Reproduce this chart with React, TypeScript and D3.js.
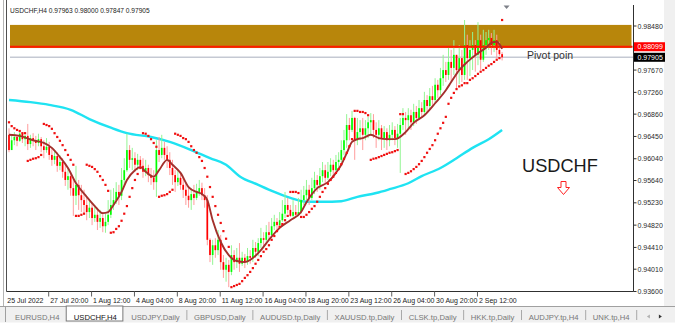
import React from "react";
import * as d3 from "d3";

const symbolTitle = "USDCHF,H4";
const headerOHLC = ["0.97963", "0.98000", "0.97847", "0.97905"];
const firstOpen = 0.9648;

const closes = [
  0.9620, 0.9638, 0.9644, 0.9637, 0.9650, 0.9640, 0.9646, 0.9631, 0.9642, 0.9638,
  0.9633, 0.9640, 0.9627, 0.9620, 0.9626, 0.9611, 0.9602, 0.9609, 0.9591, 0.9598,
  0.9580, 0.9565, 0.9572, 0.9550, 0.9536, 0.9556, 0.9537, 0.9528, 0.9519, 0.9506,
  0.9514, 0.9495, 0.9501, 0.9488, 0.9495, 0.9480, 0.9488, 0.9501, 0.9519, 0.9528,
  0.9543, 0.9536, 0.9565, 0.9583, 0.9620, 0.9602, 0.9605, 0.9593, 0.9602, 0.9591,
  0.9580, 0.9587, 0.9574, 0.9569, 0.9561, 0.9620, 0.9611, 0.9624, 0.9611, 0.9602,
  0.9587, 0.9574, 0.9561, 0.9569, 0.9556, 0.9547, 0.9536, 0.9528, 0.9539, 0.9532,
  0.9543, 0.9550, 0.9537, 0.9528, 0.9455, 0.9427, 0.9445, 0.9436, 0.9455, 0.9414,
  0.9400, 0.9409, 0.9396, 0.9427, 0.9414, 0.9422, 0.9411, 0.9422, 0.9414, 0.9425,
  0.9422, 0.9440, 0.9433, 0.9449, 0.9458, 0.9455, 0.9469, 0.9464, 0.9480, 0.9488,
  0.9482, 0.9491, 0.9503, 0.9519, 0.9510, 0.9499, 0.9506, 0.9501, 0.9506, 0.9528,
  0.9537, 0.9547, 0.9532, 0.9550, 0.9565, 0.9556, 0.9572, 0.9583, 0.9569, 0.9580,
  0.9593, 0.9583, 0.9598, 0.9602, 0.9620, 0.9638, 0.9666, 0.9657, 0.9679, 0.9638,
  0.9653, 0.9660, 0.9648, 0.9660, 0.9671, 0.9675, 0.9657, 0.9648, 0.9660, 0.9642,
  0.9653, 0.9638, 0.9648, 0.9657, 0.9642, 0.9650, 0.9666, 0.9679, 0.9675, 0.9684,
  0.9671, 0.9690, 0.9679, 0.9697, 0.9690, 0.9712, 0.9701, 0.9719, 0.9712, 0.9740,
  0.9730, 0.9752, 0.9767, 0.9758, 0.9782, 0.9771, 0.9795, 0.9767, 0.9789, 0.9758,
  0.9813, 0.9789, 0.9804, 0.9813, 0.9795, 0.9822, 0.9786, 0.9813, 0.9822, 0.9826,
  0.9813, 0.9822, 0.9804, 0.97963, 0.97905,
];

const highs = [
  0.9660, 0.9646, 0.9653, 0.9648, 0.9653, 0.9650, 0.9648, 0.9668, 0.9648, 0.9651,
  0.9646, 0.9650, 0.9644, 0.9638, 0.9642, 0.9635, 0.9624, 0.9620, 0.9616, 0.9611,
  0.9605, 0.9593, 0.9587, 0.9580, 0.9569, 0.9591, 0.9565, 0.9556, 0.9547, 0.9532,
  0.9528, 0.9523, 0.9519, 0.9514, 0.9510, 0.9506, 0.9503, 0.9528, 0.9547, 0.9550,
  0.9561, 0.9556, 0.9587, 0.9605, 0.9650, 0.9629, 0.9624, 0.9616, 0.9613, 0.9609,
  0.9605, 0.9602, 0.9593, 0.9587, 0.9583, 0.9638, 0.9644, 0.9648, 0.9635, 0.9627,
  0.9616, 0.9602, 0.9583, 0.9583, 0.9580, 0.9569, 0.9560, 0.9554, 0.9550, 0.9556,
  0.9558, 0.9565, 0.9560, 0.9550, 0.9537, 0.9458, 0.9455, 0.9458, 0.9473, 0.9464,
  0.9427, 0.9422, 0.9418, 0.9445, 0.9436, 0.9440, 0.9449, 0.9433, 0.9429, 0.9440,
  0.9436, 0.9455, 0.9451, 0.9458, 0.9477, 0.9469, 0.9482, 0.9488, 0.9495, 0.9501,
  0.9495, 0.9506, 0.9528, 0.9543, 0.9532, 0.9519, 0.9528, 0.9519, 0.9532, 0.9547,
  0.9554, 0.9565, 0.9556, 0.9569, 0.9580, 0.9574, 0.9587, 0.9598, 0.9593, 0.9598,
  0.9605, 0.9602, 0.9611, 0.9616, 0.9638, 0.9657, 0.9686, 0.9679, 0.9692, 0.9681,
  0.9679, 0.9675, 0.9679, 0.9675, 0.9681, 0.9688, 0.9686, 0.9671, 0.9675, 0.9666,
  0.9664, 0.9660, 0.9666, 0.9671, 0.9664, 0.9668, 0.9679, 0.9697, 0.9690, 0.9697,
  0.9694, 0.9705, 0.9701, 0.9712, 0.9708, 0.9727, 0.9721, 0.9734, 0.9738, 0.9752,
  0.9749, 0.9771, 0.9795, 0.9782, 0.9808, 0.9804, 0.9822, 0.9795, 0.9813, 0.9804,
  0.9859, 0.9832, 0.9822, 0.9837, 0.9822, 0.9855, 0.9832, 0.9841, 0.9837, 0.9841,
  0.9835, 0.9841, 0.9832, 0.9819, 0.98000,
];

const lows = [
  0.9616, 0.9620, 0.9629, 0.9627, 0.9635, 0.9633, 0.9627, 0.9620, 0.9624, 0.9627,
  0.9620, 0.9627, 0.9616, 0.9605, 0.9615, 0.9602, 0.9591, 0.9594, 0.9580, 0.9583,
  0.9569, 0.9554, 0.9547, 0.9536, 0.9499, 0.9519, 0.9510, 0.9506, 0.9504, 0.9491,
  0.9495, 0.9482, 0.9488, 0.9473, 0.9477, 0.9469, 0.9468, 0.9482, 0.9495, 0.9510,
  0.9521, 0.9519, 0.9528, 0.9556, 0.9580, 0.9587, 0.9583, 0.9580, 0.9583, 0.9589,
  0.9569, 0.9572, 0.9561, 0.9556, 0.9547, 0.9534, 0.9598, 0.9605, 0.9602, 0.9587,
  0.9574, 0.9556, 0.9543, 0.9554, 0.9547, 0.9532, 0.9519, 0.9514, 0.9510, 0.9519,
  0.9528, 0.9536, 0.9528, 0.9514, 0.9445, 0.9414, 0.9409, 0.9422, 0.9427, 0.9400,
  0.9385, 0.9378, 0.9368, 0.9390, 0.9400, 0.9403, 0.9396, 0.9407, 0.9403, 0.9409,
  0.9411, 0.9414, 0.9422, 0.9425, 0.9440, 0.9444, 0.9447, 0.9455, 0.9462, 0.9473,
  0.9473, 0.9480, 0.9488, 0.9495, 0.9503, 0.9497, 0.9497, 0.9497, 0.9501, 0.9503,
  0.9519, 0.9528, 0.9519, 0.9528, 0.9539, 0.9543, 0.9547, 0.9561, 0.9558, 0.9565,
  0.9572, 0.9574, 0.9581, 0.9587, 0.9598, 0.9611, 0.9624, 0.9638, 0.9653, 0.9602,
  0.9629, 0.9638, 0.9620, 0.9638, 0.9642, 0.9648, 0.9642, 0.9624, 0.9638, 0.9620,
  0.9624, 0.9620, 0.9627, 0.9638, 0.9629, 0.9624, 0.9578, 0.9657, 0.9648, 0.9660,
  0.9657, 0.9664, 0.9668, 0.9675, 0.9679, 0.9684, 0.9690, 0.9694, 0.9703, 0.9705,
  0.9716, 0.9721, 0.9738, 0.9745, 0.9749, 0.9745, 0.9758, 0.9734, 0.9741, 0.9745,
  0.9749, 0.9749, 0.9756, 0.9767, 0.9764, 0.9776, 0.9767, 0.9782, 0.9795, 0.9804,
  0.9795, 0.9800, 0.9789, 0.9793, 0.97847,
];

const sar = [
  0.9671, 0.9664, 0.9660, 0.9657, 0.9655, 0.9651, 0.9651,
  0.9600, 0.9602, 0.9604, 0.9605, 0.9607, 0.9611,
  0.9668, 0.9666, 0.9664, 0.9659, 0.9651, 0.9644, 0.9637, 0.9629, 0.9620, 0.9611, 0.9602, 0.9593,
  0.9499, 0.9499, 0.9501, 0.9503,
  0.9593, 0.9591, 0.9589, 0.9585, 0.9580, 0.9572, 0.9565, 0.9556, 0.9545,
  0.9468, 0.9469, 0.9475, 0.9480, 0.9490, 0.9503, 0.9517, 0.9534, 0.9550, 0.9565, 0.9576, 0.9587,
  0.9651, 0.9650, 0.9646, 0.9640, 0.9633, 0.9626,
  0.9534, 0.9536, 0.9537, 0.9539, 0.9543, 0.9547,
  0.9650, 0.9648, 0.9646, 0.9642, 0.9640, 0.9635, 0.9627, 0.9620, 0.9615, 0.9607, 0.9600,
  0.9587, 0.9571, 0.9552, 0.9534, 0.9517, 0.9501, 0.9486, 0.9471, 0.9457, 0.9442,
  0.9368, 0.9370, 0.9372, 0.9374, 0.9379, 0.9385, 0.9390, 0.9396, 0.9403, 0.9411, 0.9418,
  0.9425, 0.9433, 0.9438, 0.9445, 0.9455, 0.9462, 0.9471, 0.9479, 0.9484, 0.9491, 0.9499,
  0.9543, 0.9543, 0.9543, 0.9541,
  0.9497, 0.9497, 0.9501, 0.9506, 0.9512, 0.9517, 0.9525, 0.9534, 0.9543, 0.9550,
  0.9558, 0.9565, 0.9571, 0.9578, 0.9585, 0.9594, 0.9604, 0.9615, 0.9627, 0.9640,
  0.9692, 0.9692, 0.9690, 0.9690, 0.9688, 0.9684,
  0.9602, 0.9604, 0.9605, 0.9607, 0.9609, 0.9611, 0.9613, 0.9615, 0.9616, 0.9618, 0.9620,
  0.9686, 0.9686,
  0.9576, 0.9578, 0.9581, 0.9585, 0.9589, 0.9594, 0.9600, 0.9607, 0.9615, 0.9622,
  0.9629, 0.9638, 0.9650, 0.9660, 0.9670, 0.9681, 0.9705, 0.9716, 0.9725, 0.9732,
  0.9737, 0.9739, 0.9743, 0.9743, 0.9749, 0.9752, 0.9756, 0.9760, 0.9764, 0.9767,
  0.9771, 0.9775, 0.9778, 0.9782, 0.9786, 0.9789,
  0.9859,
];

// moving averages: [bar index, value]
const maBrown: [number, number][] = [
  [0, 0.9648], [4, 0.9646], [9, 0.9638], [13, 0.9633], [16, 0.9624], [19, 0.9607],
  [22, 0.9587], [25, 0.9559], [29, 0.9534], [32, 0.9517], [35, 0.9504], [37, 0.9506],
  [39, 0.9519], [42, 0.9543], [44, 0.9565], [47, 0.9583], [49, 0.9589], [51, 0.9580],
  [54, 0.9571], [56, 0.9583], [59, 0.9602], [61, 0.9593], [64, 0.9578], [67, 0.9552],
  [70, 0.9543], [72, 0.9539], [74, 0.9528], [76, 0.9491], [79, 0.9451], [82, 0.9427],
  [85, 0.9416], [88, 0.9414], [90, 0.9418], [94, 0.9436], [97, 0.9455], [101, 0.9477],
  [105, 0.9491], [109, 0.9506], [111, 0.9524], [115, 0.9550], [119, 0.9561], [122, 0.9578],
  [124, 0.9593], [126, 0.9614], [128, 0.9635], [130, 0.9640], [132, 0.9642], [135, 0.9648],
  [138, 0.9642], [141, 0.9640], [144, 0.9640], [148, 0.9653], [151, 0.9670], [155, 0.9684],
  [159, 0.9706], [163, 0.9730], [165, 0.9745], [168, 0.9767], [171, 0.9782], [175, 0.9798],
  [178, 0.9808], [180, 0.9817], [182, 0.9819], [184, 0.9806],
];

const maCyan: [number, number][] = [
  [0, 0.9712], [8, 0.9708], [15, 0.9703], [23, 0.9694], [30, 0.9677], [38, 0.9661],
  [44, 0.9651], [53, 0.9644], [60, 0.9635], [68, 0.9620], [75, 0.9605], [81, 0.9593],
  [86, 0.9572], [93, 0.9556], [99, 0.9543], [105, 0.9532], [111, 0.9525], [117, 0.9525],
  [124, 0.9526], [130, 0.9534], [137, 0.9541], [142, 0.9548], [149, 0.9559], [154, 0.9572],
  [161, 0.9587], [167, 0.9605], [173, 0.9624], [179, 0.9640], [184, 0.9657],
];

const priceTicks = [0.9848, 0.9767, 0.9726, 0.9686, 0.9645, 0.9604, 0.9564, 0.9523, 0.9482, 0.9441, 0.9401, 0.936];
const timeLabels = ["25 Jul 2022", "27 Jul 20:00", "1 Aug 12:00", "4 Aug 04:00", "8 Aug 20:00", "11 Aug 12:00", "16 Aug 04:00", "18 Aug 20:00", "23 Aug 12:00", "26 Aug 04:00", "30 Aug 20:00", "2 Sep 12:00"];
const timeLabelBars = [0, 15, 31, 47, 63, 79, 95, 111, 127, 143, 159, 175];

const zoneTop = 0.985;
const zoneBottom = 0.98075;
const redLevel = 0.98099;
const bidLevel = 0.97905;

const tabs = ["EURUSD,H4", "USDCHF,H4", "USDJPY,Daily", "GBPUSD,Daily", "AUDUSD.tp,Daily", "XAUUSD.tp,Daily", "CLSK.tp,Daily", "HKK.tp,Daily", "AUDJPY.tp,H4", "UNK.tp,H4"];
const activeTab = 1;

const W = 675;
const H = 334;
const plotLeft = 6.5;
const axisX = 633.5;
const axisY = 291.5;
const FONT = "'Liberation Sans', Arial, sans-serif";

function measure(text: string, size: number) {
  if (typeof document === "undefined") return text.length * size * 0.55;
  const c = document.createElement("canvas").getContext("2d");
  if (!c) return text.length * size * 0.55;
  c.font = `${size}px 'Liberation Sans'`;
  return c.measureText(text).width;
}

export default function App() {
  const n = closes.length;
  const xs = d3.scaleLinear().domain([0, n - 1]).range([9, 502.1]);
  const ys = d3.scaleLinear().domain([0.936, 0.9848]).range([axisY, 26]);
  const fmt = d3.format(".5f");

  const brownLine = d3.line<[number, number]>().x((d) => xs(d[0])).y((d) => ys(d[1])).curve(d3.curveMonotoneX)(maBrown) || "";
  const cyanLine = d3.line<[number, number]>().x((d) => xs(d[0])).y((d) => ys(d[1])).curve(d3.curveMonotoneX)(maCyan) || "";

  const candles = closes.map((c, i) => {
    const o = i === 0 ? firstOpen : closes[i - 1];
    const bull = c >= o;
    const x = xs(i);
    const yTop = ys(Math.max(o, c));
    const yBot = ys(Math.min(o, c));
    return (
      <g key={i}>
        <line x1={x} x2={x} y1={ys(highs[i])} y2={ys(lows[i])} stroke={bull ? "#93f593" : "#ff9c9c"} strokeWidth={1} />
        <rect x={x - 0.85} width={1.7} y={yTop} height={Math.max(1, yBot - yTop)} fill={bull ? "#00ff00" : "#ff0000"} />
      </g>
    );
  });

  // tabs layout
  const tabSize = 7.7;
  const tabGap = 14.3;
  let cursor = 15;
  const tabPos = tabs.map((t) => {
    const w = measure(t, tabSize);
    const p = { x: cursor, w };
    cursor += w + tabGap;
    return p;
  });

  const yRed = ys(redLevel);
  const yBid = ys(bidLevel);

  return (
    <svg width={W} height={H} style={{ position: "absolute", left: 0, top: 0, background: "#fff" }} fontFamily={FONT}>
      <rect x={0} y={0} width={W} height={H} fill="#ffffff" />
      {/* right strip */}
      <rect x={664} y={0} width={11} height={306} fill="#f0f0f0" />
      {/* left frame */}
      <line x1={3.5} x2={3.5} y1={0} y2={306} stroke="#b4b4b4" strokeWidth={1} />
      <line x1={plotLeft} x2={plotLeft} y1={0} y2={axisY} stroke="#505050" strokeWidth={1} />

      {/* zone */}
      <rect x={10} y={ys(zoneTop)} width={axisX - 12} height={ys(zoneBottom) - ys(zoneTop)} fill="#b8860b" />
      <line x1={10} x2={axisX} y1={yBid} y2={yBid} stroke="#c5c9d3" strokeWidth={1.5} />

      {/* cyan MA */}
      <path d={cyanLine} fill="none" stroke="#1fe3f2" strokeWidth={2.4} />
      {candles}
      <line x1={10} x2={axisX - 1} y1={yRed} y2={yRed} stroke="#ff1a00" strokeWidth={2} />
      {/* brown MA */}
      <path d={brownLine} fill="none" stroke="#a3302c" strokeWidth={1.9} />
      {/* SAR */}
      {sar.map((v, i) => (
        <rect key={i} x={xs(i) - 1.1} y={ys(v) - 1.1} width={2.2} height={2.2} fill="#f01010" />
      ))}

      {/* header */}
      <text x={10} y={12.5} fontSize={6.6} fill="#222">
        {symbolTitle + "  " + headerOHLC.join(" ")}
      </text>
      {/* shift marker */}
      <path d={`M ${xs(n - 1) + 1.5} 5.5 L ${xs(n - 1) + 7.5} 5.5 L ${xs(n - 1) + 4.5} 9 Z`} fill="#7d8088" />

      {/* texts on chart */}
      <text x={527} y={58.5} fontSize={10.5} fill="#333">Pivot poin</text>
      <text x={522} y={172} fontSize={18.2} fill="#1a1a1a">USDCHF</text>
      <path d="M 561 181.5 L 566 181.5 L 566 187.5 L 569.5 187.5 L 563.5 194.5 L 557.5 187.5 L 561 187.5 Z" fill="#fff" stroke="#ff2020" strokeWidth={1} />

      {/* axes */}
      <line x1={axisX} x2={axisX} y1={5} y2={axisY} stroke="#303030" strokeWidth={1} />
      <line x1={plotLeft} x2={axisX} y1={axisY} y2={axisY} stroke="#303030" strokeWidth={1} />
      {priceTicks.map((v, i) => (
        <g key={i}>
          <line x1={axisX} x2={axisX + 3} y1={ys(v)} y2={ys(v)} stroke="#303030" />
          <text x={axisX + 4} y={ys(v) + 2.5} fontSize={7} fill="#2b2b2b">{fmt(v)}</text>
        </g>
      ))}
      <rect x={axisX + 0.5} y={yRed - 4.5} width={31} height={9} fill="#ff0000" />
      <text x={axisX + 4} y={yRed + 2.5} fontSize={7} fill="#fff">{fmt(redLevel)}</text>
      <rect x={axisX + 0.5} y={yBid - 4.5} width={31} height={9} fill="#000" />
      <text x={axisX + 4} y={yBid + 2.5} fontSize={7} fill="#fff">{fmt(bidLevel)}</text>

      {timeLabels.map((t, i) => {
        const bx = xs(timeLabelBars[i]);
        const tx = i === 0 ? plotLeft + 0.8 : bx + 1;
        return (
          <g key={t}>
            {i > 0 && <line x1={bx - 0.5} x2={bx - 0.5} y1={axisY} y2={axisY + 5} stroke="#606060" strokeWidth={1} />}
            <text x={tx} y={302.5} fontSize={7} fill="#222">{t}</text>
          </g>
        );
      })}

      {/* tab bar */}
      <rect x={0} y={306.5} width={W} height={16} fill="#f0f0f0" />
      <line x1={0} x2={W} y1={306.5} y2={306.5} stroke="#a0a0a0" />
      <line x1={5.5} x2={5.5} y1={306.5} y2={322} stroke="#a0a0a0" />
      {tabPos.map((p, i) => (
        <g key={tabs[i]}>
          {i === activeTab && (
            <rect x={p.x - 7.5} y={306} width={p.w + 13.5} height={15} fill="#fff" stroke="#7a7a7a" strokeWidth={1} />
          )}
          {i > 0 && i !== activeTab && i !== activeTab + 1 && (
            <line x1={p.x - tabGap / 2} x2={p.x - tabGap / 2} y1={310} y2={320} stroke="#a8a8a8" />
          )}
          <text x={p.x} y={319.5} fontSize={tabSize} fill={i === activeTab ? "#111" : "#777"}>{tabs[i]}</text>
        </g>
      ))}
      <line x1={cursor - tabGap / 2} x2={cursor - tabGap / 2} y1={310} y2={320} stroke="#a8a8a8" />
      <path d={`M ${cursor + 3} 316.5 L ${cursor + 6} 314.5 L ${cursor + 6} 318.5 Z`} fill="#b0b0b0" />
      <path d={`M ${cursor + 15} 314.5 L ${cursor + 18} 316.5 L ${cursor + 15} 318.5 Z`} fill="#333" />
    </svg>
  );
}
